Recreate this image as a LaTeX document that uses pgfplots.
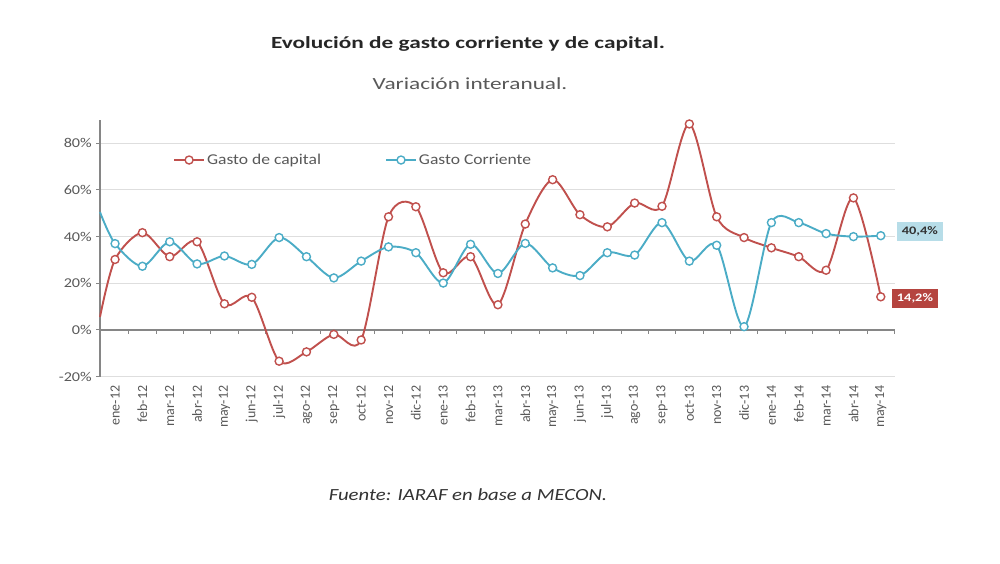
\documentclass[border=0pt]{standalone}
\usepackage{pgfplots}
\pgfplotsset{compat=1.18}
\usepackage{fontspec}
\setmainfont{Carlito}

\definecolor{capred}{RGB}{192,80,77}
\definecolor{corblue}{RGB}{75,172,198}
\definecolor{axisgray}{RGB}{134,134,134}
\definecolor{gridgray}{RGB}{222,222,222}
\definecolor{textgray}{RGB}{89,89,89}
\definecolor{lblblue}{RGB}{183,221,232}
\definecolor{lblred}{RGB}{181,68,63}

% Year-on-year change (%); the first row is the value at the left edge of the axis
\pgfplotstableread{
x      capital  corriente
-0.55   5.6     50.5
0      30.2     37.0
1      41.7     27.3
2      31.4     37.8
3      37.8     28.3
4      11.2     31.7
5      14.0     28.1
6     -13.4     39.6
7      -9.4     31.4
8      -1.9     22.3
9      -4.3     29.5
10     48.5     35.6
11     52.8     33.1
12     24.5     20.1
13     31.4     36.7
14     10.8     24.2
15     45.4     37.1
16     64.4     26.6
17     49.4     23.3
18     44.2     33.1
19     54.4     32.1
20     53.0     46.0
21     88.3     29.5
22     48.5     36.3
23     39.6      1.4
24     35.2     46.0
25     31.4     46.0
26     25.6     41.3
27     56.6     40.0
28     14.2     40.4
}\gasto

\begin{document}
\begin{tikzpicture}[x=1pt,y=1pt]
\useasboundingbox (0,0) rectangle (1000,564);

\node[font=\fontsize{17}{20}\selectfont\bfseries, text=black!85, xscale=1.37] at (468,520.5) {Evolución de gasto corriente y de capital.};
\node[font=\fontsize{17}{20}\selectfont, text=textgray, xscale=1.37] at (470,480.5) {Variación interanual.};
\node[font=\fontsize{17}{20}\selectfont\itshape, text=black!80, xscale=1.22] at (468,69) {Fuente: IARAF en base a MECON.};

\begin{axis}[
  at={(100pt,187.4pt)}, anchor=south west,
  scale only axis, width=795pt, height=256.6pt,
  xmin=-0.55, xmax=28.52, ymin=-20, ymax=90,
  clip=false,
  axis x line=none,
  axis y line*=left,
  y axis line style={draw=axisgray, line width=1.4pt, -},
  ytick={-20,0,...,80},
  yticklabel={\pgfmathprintnumber{\tick}\%},
  yticklabel style={font=\fontsize{13.5}{15}\selectfont, text=textgray, xscale=1.2},
  ytick style={draw=axisgray, line width=1pt},
  tick align=outside, major tick length=4pt,
  ymajorgrids, grid style={draw=gridgray, line width=1pt},
  /pgf/number format/assume math mode=true,
  legend columns=2,
  legend style={draw=none, fill=none, at={(0.088,0.844)}, anchor=west,
    font=\fontsize{15}{17}\selectfont, text=textgray,
    /tikz/every even column/.append style={column sep=62pt}},
  legend image code/.code={
    \draw[#1, mark=none] (0pt,0pt) -- (30pt,0pt);
    \draw[#1, only marks, mark phase=1] plot coordinates {(15pt,0pt)};
  },
]
% zero line with small ticks between the months
\draw[axisgray, line width=1.4pt] (axis cs:-0.55,0) -- (axis cs:28.52,0);
\pgfplotsinvokeforeach{0,...,28}{
  \draw[axisgray, line width=0.8pt] (axis cs:#1+0.5,0) -- ++(0pt,-4pt);
}
% anchors for the month labels along the bottom edge
\pgfplotsinvokeforeach{0,...,28}{
  \coordinate (m#1) at (axis cs:#1,-20);
}

\addplot[capred, line width=1.9pt, smooth, tension=0.5,
  mark=*, mark size=4pt, mark phase=2, mark repeat=1,
  mark options={fill=white, draw=capred, line width=1.4pt}]
  table[x=x, y=capital] {\gasto};
\addlegendentry{\scalebox{1.17}[1]{Gasto de capital}}

\addplot[corblue, line width=1.9pt, smooth, tension=0.5,
  mark=*, mark size=4pt, mark phase=2, mark repeat=1,
  mark options={fill=white, draw=corblue, line width=1.4pt}]
  table[x=x, y=corriente] {\gasto};
\addlegendentry{\scalebox{1.17}[1]{Gasto Corriente}}

\node[fill=lblblue, text=black!80, font=\fontsize{11.5}{13}\selectfont\bfseries,
  inner xsep=4pt, inner ysep=3pt, minimum height=19pt, xscale=1.25] at (axis cs:29.43,42.2) {40,4\%};
\node[fill=lblred, text=white, font=\fontsize{11.5}{13}\selectfont\bfseries,
  inner xsep=4pt, inner ysep=3pt, minimum height=19pt, xscale=1.25] at (axis cs:29.25,13.5) {14,2\%};
\end{axis}

\foreach \i/\lab in {0/ene-12,1/feb-12,2/mar-12,3/abr-12,4/may-12,5/jun-12,6/jul-12,7/ago-12,8/sep-12,9/oct-12,10/nov-12,11/dic-12,12/ene-13,13/feb-13,14/mar-13,15/abr-13,16/may-13,17/jun-13,18/jul-13,19/ago-13,20/sep-13,21/oct-13,22/nov-13,23/dic-13,24/ene-14,25/feb-14,26/mar-14,27/abr-14,28/may-14}{
  \node[rotate=90, anchor=east, font=\fontsize{14}{16}\selectfont, text=textgray, inner sep=0pt]
    at ([yshift=-9pt]m\i) {\lab};
}
\end{tikzpicture}
\end{document}
